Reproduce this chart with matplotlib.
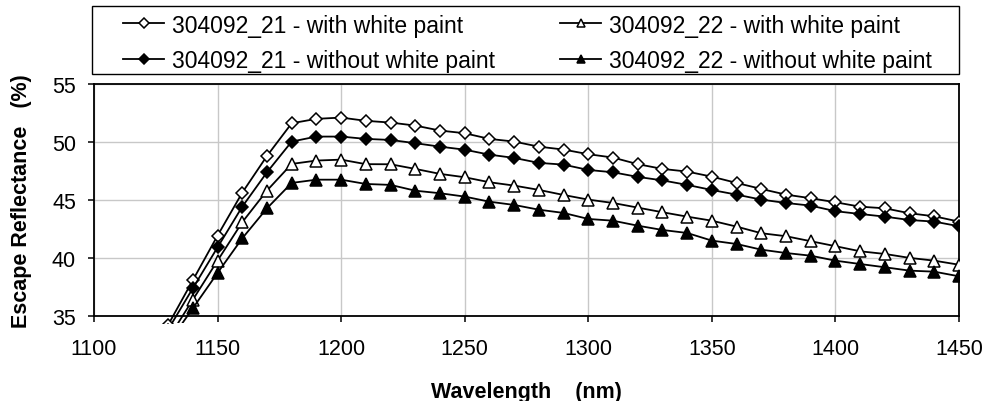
import numpy as np
import matplotlib
matplotlib.use('Agg')
import matplotlib.pyplot as plt
from matplotlib.patches import Rectangle

plt.rcParams['font.family'] = ['Liberation Sans', 'DejaVu Sans']

wavelength = [1130, 1140, 1150, 1160, 1170, 1180, 1190, 1200, 1210, 1220, 1230,
              1240, 1250, 1260, 1270, 1280, 1290, 1300, 1310, 1320, 1330, 1340,
              1350, 1360, 1370, 1380, 1390, 1400, 1410, 1420, 1430, 1440, 1450]

r21_paint = [34.2, 38.06, 41.91, 45.62, 48.79, 51.61, 51.99, 52.1, 51.82, 51.67, 51.41,
             50.98, 50.75, 50.26, 50.03, 49.59, 49.34, 48.94, 48.65, 48.08, 47.67, 47.44,
             47.0, 46.46, 45.94, 45.45, 45.14, 44.79, 44.41, 44.27, 43.84, 43.58, 43.12]
r22_paint = [33.0, 36.38, 39.75, 43.07, 45.8, 48.1, 48.39, 48.47, 48.08, 48.07, 47.67,
             47.24, 46.95, 46.52, 46.23, 45.86, 45.42, 45.02, 44.73, 44.33, 43.93, 43.55,
             43.2, 42.69, 42.12, 41.86, 41.43, 41.0, 40.56, 40.33, 39.99, 39.75, 39.4]
r21_nopaint = [33.8, 37.37, 40.9, 44.41, 47.38, 50.03, 50.46, 50.46, 50.26, 50.17, 49.89,
               49.59, 49.33, 48.9, 48.62, 48.19, 48.04, 47.58, 47.38, 46.98, 46.68, 46.29,
               45.85, 45.45, 45.02, 44.73, 44.5, 44.02, 43.78, 43.55, 43.26, 43.12, 42.72]
r22_nopaint = [32.6, 35.64, 38.69, 41.68, 44.27, 46.46, 46.74, 46.74, 46.37, 46.29, 45.79,
               45.57, 45.28, 44.84, 44.56, 44.15, 43.87, 43.35, 43.2, 42.77, 42.4, 42.14,
               41.48, 41.19, 40.7, 40.41, 40.18, 39.75, 39.46, 39.18, 38.89, 38.8, 38.4]

labels = ['304092_21 - with white paint', '304092_22 - with white paint',
          '304092_21 - without white paint', '304092_22 - without white paint']

fig = plt.figure(figsize=(9.85, 4.02), dpi=100)
ax = fig.add_axes([0.0954, 0.2122, 0.8782, 0.5764])

# slightly larger clip box so the lines run a bit past the bottom axis
clip = Rectangle((0, -0.03), 1, 1.03, transform=ax.transAxes, visible=False)
ax.add_patch(clip)

series = [
    (r21_paint, 'D', 'white', 6.5),
    (r22_paint, '^', 'white', 8),
    (r21_nopaint, 'D', 'black', 6.5),
    (r22_nopaint, '^', 'black', 8),
]
handles = []
for (vals, mk, fc, ms), lab in zip(series, labels):
    ln, = ax.plot(wavelength, vals, color='black', lw=1.3, marker=mk, ms=ms,
                  mfc=fc, mec='black', mew=1.1, label=lab, zorder=3)
    ln.set_clip_path(clip)
    handles.append(ln)

ax.set_xlim(1100, 1450)
ax.set_ylim(35, 55)
ax.set_xticks(np.arange(1100, 1451, 50))
ax.set_yticks(np.arange(35, 56, 5))
ax.grid(True, color='#c8c8c8', lw=1.0)
ax.set_axisbelow(True)
for s in ax.spines.values():
    s.set_linewidth(1.3)
ax.tick_params(direction='out', length=4, width=1.1, labelsize=15.5)
ax.tick_params(axis='x', pad=12)
ax.tick_params(axis='y', pad=9)

ax.set_xlabel('Wavelength    (nm)', fontsize=15.5, fontweight='bold', va='center')
ax.set_ylabel('Escape Reflectance   (%)', fontsize=15.5, fontweight='bold', va='center')
ax.xaxis.set_label_coords(0.5, -0.325)
ax.yaxis.set_label_coords(-0.0832, 0.5)

# legend: two columns placed separately
legkw = dict(loc='upper left', fontsize=16.5, frameon=False, handlelength=1.8,
             handletextpad=0.35, borderaxespad=0, borderpad=0, labelspacing=0.55,
             markerscale=0.75)
fig.legend(handles=[handles[0], handles[2]], labels=[labels[0], labels[2]],
           bbox_to_anchor=(123 / 985, 1 - 14.5 / 402), **legkw)
fig.legend(handles=[handles[1], handles[3]], labels=[labels[1], labels[3]],
           bbox_to_anchor=(560 / 985, 1 - 14.5 / 402), **legkw)
fig.patches.append(Rectangle((0.0934, 0.8134), 0.8802, 0.1692, transform=fig.transFigure,
                             fill=False, edgecolor='black', lw=1.0))

fig.savefig('out.png', dpi=100)
